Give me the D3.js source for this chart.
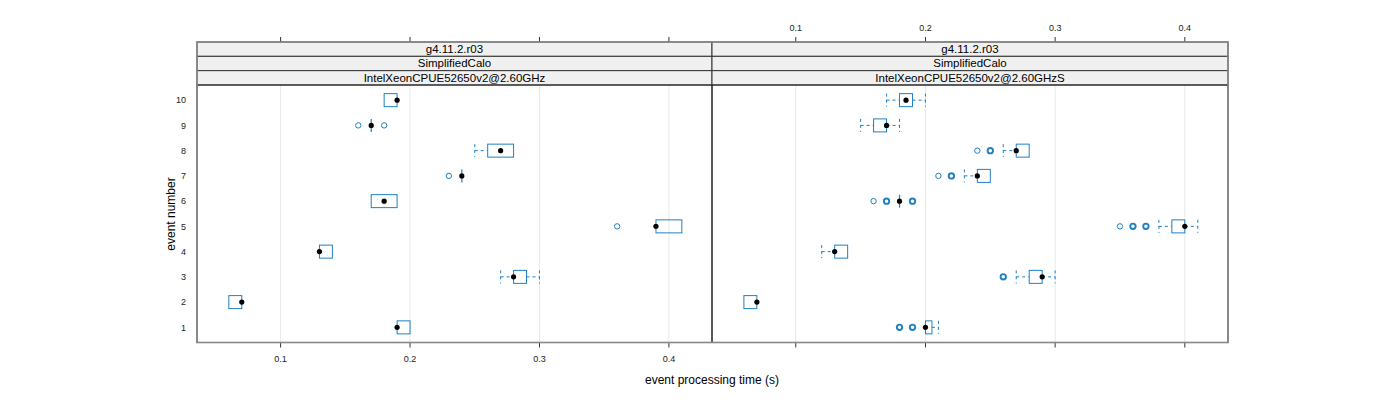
<!DOCTYPE html>
<html>
<head>
<meta charset="utf-8">
<script src="https://cdn.jsdelivr.net/npm/d3@7"></script>
<style>
  html, body { margin: 0; padding: 0; background: #fff; }
  svg { display: block; font-family: "Liberation Sans", Arial, sans-serif; }
</style>
</head>
<body>
<svg id="chart" width="1400" height="400"></svg>
<script>
// ---------------- data ----------------
const events = [1, 2, 3, 4, 5, 6, 7, 8, 9, 10];
const stripRelease = "g4.11.2.r03";
const stripApp = "SimplifiedCalo";
const panelNames = ["IntelXeonCPUE52650v2@2.60GHz", "IntelXeonCPUE52650v2@2.60GHzS"];
const xTicks = [0.1, 0.2, 0.3, 0.4];
const xTickLabels = ["0.1", "0.2", "0.3", "0.4"];

// panel 1: IntelXeonCPUE52650v2@2.60GHz  (per event 1..10)
const p1WhiskerLo = [0.19, 0.06, 0.27, 0.13, 0.39, 0.17, 0.24, 0.25, 0.17, 0.18];
const p1Q1        = [0.19, 0.06, 0.28, 0.13, 0.39, 0.17, 0.24, 0.26, 0.17, 0.18];
const p1Median    = [0.19, 0.07, 0.28, 0.13, 0.39, 0.18, 0.24, 0.27, 0.17, 0.19];
const p1Q3        = [0.20, 0.07, 0.29, 0.14, 0.41, 0.19, 0.24, 0.28, 0.17, 0.19];
const p1WhiskerHi = [0.20, 0.07, 0.30, 0.14, 0.41, 0.19, 0.24, 0.28, 0.17, 0.19];
const p1Outliers  = [[], [], [], [], [0.36], [], [0.23], [], [0.16, 0.18], []];

// panel 2: IntelXeonCPUE52650v2@2.60GHzS
const p2WhiskerLo = [0.20, 0.06, 0.27, 0.12, 0.38, 0.18, 0.23, 0.26, 0.15, 0.17];
const p2Q1        = [0.20, 0.06, 0.28, 0.13, 0.39, 0.18, 0.24, 0.27, 0.16, 0.18];
const p2Median    = [0.20, 0.07, 0.29, 0.13, 0.40, 0.18, 0.24, 0.27, 0.17, 0.185];
const p2Q3        = [0.205, 0.07, 0.29, 0.14, 0.40, 0.18, 0.25, 0.28, 0.17, 0.19];
const p2WhiskerHi = [0.21, 0.07, 0.30, 0.14, 0.41, 0.18, 0.25, 0.28, 0.18, 0.20];
const p2Outliers  = [[0.18, 0.18, 0.19, 0.19], [], [0.26, 0.26], [], [0.35, 0.36, 0.36, 0.37, 0.37],
                     [0.16, 0.17, 0.17, 0.19, 0.19], [0.21, 0.22, 0.22], [0.24, 0.25, 0.25], [], []];

// ---------------- layout ----------------
const svg = d3.select("#chart");
const blue = "#1f80c4";
const xDomain = [0.0354, 0.4333];
const panelTop = 85, panelBottom = 342.5;
const stripTop = 42, stripH = 14.33;
const panels = [
  { name: panelNames[0], x0: 197, x1: 712,
    lo: p1WhiskerLo, q1: p1Q1, med: p1Median, q3: p1Q3, hi: p1WhiskerHi, out: p1Outliers },
  { name: panelNames[1], x0: 712, x1: 1228,
    lo: p2WhiskerLo, q1: p2Q1, med: p2Median, q3: p2Q3, hi: p2WhiskerHi, out: p2Outliers }
];
const y = d3.scaleLinear().domain([0.4, 10.6]).range([panelBottom, panelTop]);
const boxH = 13;

panels.forEach((p, pi) => {
  const x = d3.scaleLinear().domain(xDomain).range([p.x0, p.x1]);
  const g = svg.append("g");

  // grid
  g.selectAll("line.grid").data(xTicks).join("line")
    .attr("x1", d => x(d)).attr("x2", d => x(d))
    .attr("y1", panelTop).attr("y2", panelBottom)
    .attr("stroke", "#e8e8e8").attr("stroke-width", 1);

  // strips
  const stripLabels = [stripRelease, stripApp, p.name];
  stripLabels.forEach((t, i) => {
    const sy = stripTop + i * stripH;
    g.append("rect").attr("x", p.x0).attr("y", sy).attr("width", p.x1 - p.x0).attr("height", stripH)
      .attr("fill", "#f0f0f0").attr("stroke", "#333").attr("stroke-width", 1);
    g.append("text").attr("x", (p.x0 + p.x1) / 2).attr("y", sy + stripH / 2 + 4)
      .attr("text-anchor", "middle").attr("font-size", 11.5).attr("fill", "#000").text(t);
  });

  const rows = events.map((e, i) => ({
    e, lo: p.lo[i], q1: p.q1[i], med: p.med[i], q3: p.q3[i], hi: p.hi[i], out: p.out[i]
  }));

  rows.forEach(r => {
    const cy = y(r.e);
    const dash = "3,3";
    if (r.lo < r.q1) {
      g.append("line").attr("x1", x(r.lo)).attr("x2", x(r.q1)).attr("y1", cy).attr("y2", cy)
        .attr("stroke", blue).attr("stroke-dasharray", dash);
      g.append("line").attr("x1", x(r.lo)).attr("x2", x(r.lo)).attr("y1", cy - boxH / 2).attr("y2", cy + boxH / 2)
        .attr("stroke", blue).attr("stroke-dasharray", dash);
    }
    if (r.hi > r.q3) {
      g.append("line").attr("x1", x(r.q3)).attr("x2", x(r.hi)).attr("y1", cy).attr("y2", cy)
        .attr("stroke", blue).attr("stroke-dasharray", dash);
      g.append("line").attr("x1", x(r.hi)).attr("x2", x(r.hi)).attr("y1", cy - boxH / 2).attr("y2", cy + boxH / 2)
        .attr("stroke", blue).attr("stroke-dasharray", dash);
    }
    // box (collapsed box becomes a vertical line)
    if (x(r.q3) - x(r.q1) > 0.5) {
      g.append("rect").attr("x", x(r.q1)).attr("y", cy - boxH / 2)
        .attr("width", x(r.q3) - x(r.q1)).attr("height", boxH)
        .attr("fill", "none").attr("stroke", blue).attr("stroke-width", 1);
    } else {
      g.append("line").attr("x1", x(r.q1)).attr("x2", x(r.q1)).attr("y1", cy - boxH / 2).attr("y2", cy + boxH / 2)
        .attr("stroke", blue).attr("stroke-width", 1.2);
    }
    // outliers (overplotted duplicates drawn thicker)
    const counts = d3.rollups(r.out, v => v.length, d => d);
    counts.forEach(([o, n]) => {
      g.append("circle").attr("cx", x(o)).attr("cy", cy).attr("r", 2.7)
        .attr("fill", "none").attr("stroke", blue).attr("stroke-width", n > 1 ? 1.9 : 1);
    });
    // median dot
    g.append("circle").attr("cx", x(r.med)).attr("cy", cy).attr("r", 2.6).attr("fill", "#000");
  });

  // frame
  g.append("rect").attr("x", p.x0).attr("y", panelTop).attr("width", p.x1 - p.x0)
    .attr("height", panelBottom - panelTop).attr("fill", "none").attr("stroke", "#222").attr("stroke-width", 1);

  // ticks bottom & top
  g.selectAll("line.tb").data(xTicks).join("line")
    .attr("x1", d => x(d)).attr("x2", d => x(d)).attr("y1", panelBottom).attr("y2", panelBottom + 5)
    .attr("stroke", "#333");
  g.selectAll("line.tt").data(xTicks).join("line")
    .attr("x1", d => x(d)).attr("x2", d => x(d)).attr("y1", stripTop).attr("y2", stripTop - 5)
    .attr("stroke", "#333");
  if (pi === 0) {
    g.selectAll("text.tl").data(xTicks).join("text")
      .attr("x", d => x(d)).attr("y", 361.5).attr("text-anchor", "middle")
      .attr("font-size", 9).attr("fill", "#222").text((d, i) => xTickLabels[i]);
    g.selectAll("text.yl").data(events).join("text")
      .attr("x", 186).attr("y", d => y(d) + 3.2).attr("text-anchor", "end")
      .attr("font-size", 9).attr("fill", "#222").text(d => d);
  } else {
    g.selectAll("text.tl").data(xTicks).join("text")
      .attr("x", d => x(d)).attr("y", 30.5).attr("text-anchor", "middle")
      .attr("font-size", 9).attr("fill", "#222").text((d, i) => xTickLabels[i]);
  }
});

// outer frame (grey)
svg.append("rect").attr("x", 197).attr("y", stripTop).attr("width", 1228 - 197)
  .attr("height", panelBottom - stripTop).attr("fill", "none").attr("stroke", "#888").attr("stroke-width", 1.6);

// axis titles
svg.append("text").attr("x", 712).attr("y", 384).attr("text-anchor", "middle")
  .attr("font-size", 12).attr("fill", "#000").text("event processing time (s)");
svg.append("text").attr("transform", "translate(174.5,214) rotate(-90)").attr("text-anchor", "middle")
  .attr("font-size", 12).attr("fill", "#000").text("event number");
</script>
</body>
</html>
